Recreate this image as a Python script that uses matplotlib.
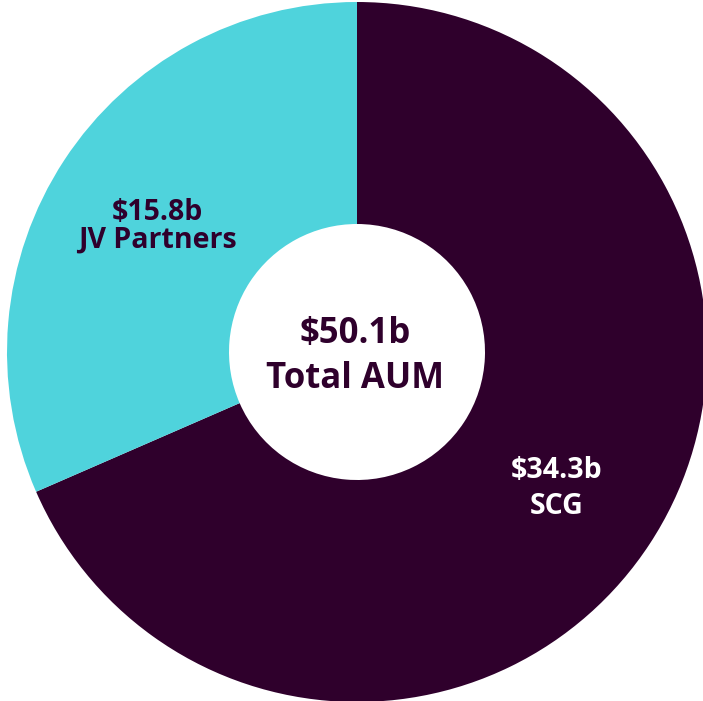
import matplotlib
matplotlib.use('Agg')
import matplotlib.pyplot as plt

segments = ['SCG', 'JV Partners']
values = [34.3, 15.8]
value_labels = ['$34.3b', '$15.8b']
colors = ['#2F002C', '#4FD3DC']
total_label = '$50.1b'

W, H = 703, 701
fig = plt.figure(figsize=(W / 100, H / 100), dpi=100)
ax = fig.add_axes([0, 0, 1, 1])

cx, cy = 357, H - 352
R, r = 350, 128
ax.pie(values, colors=colors, startangle=90, counterclock=False,
       center=(cx, cy), radius=R, frame=True,
       wedgeprops=dict(width=R - r, linewidth=0))
ax.set_xlim(0, W)
ax.set_ylim(0, H)
ax.set_aspect('equal')
ax.axis('off')

dark = '#2F002C'
font = 'Open Sans'
small, big = 20.5, 25
# segment labels (baseline placed)
ax.text(157, H - 220, value_labels[1], ha='center', va='baseline', fontsize=small,
        fontweight='bold', color=dark, family=font)
ax.text(157, H - 248, segments[1], ha='center', va='baseline', fontsize=small,
        fontweight='bold', color=dark, family=font)
ax.text(557, H - 478, value_labels[0], ha='center', va='baseline', fontsize=small,
        fontweight='bold', color='white', family=font)
ax.text(557, H - 514, segments[0], ha='center', va='baseline', fontsize=small,
        fontweight='bold', color='white', family=font)

# centre label
ax.text(355, H - 343, total_label, ha='center', va='baseline', fontsize=big,
        fontweight='bold', color=dark, family=font)
ax.text(355, H - 388, 'Total AUM', ha='center', va='baseline', fontsize=big,
        fontweight='bold', color=dark, family=font)

fig.savefig('out.png', dpi=100, facecolor='white')
